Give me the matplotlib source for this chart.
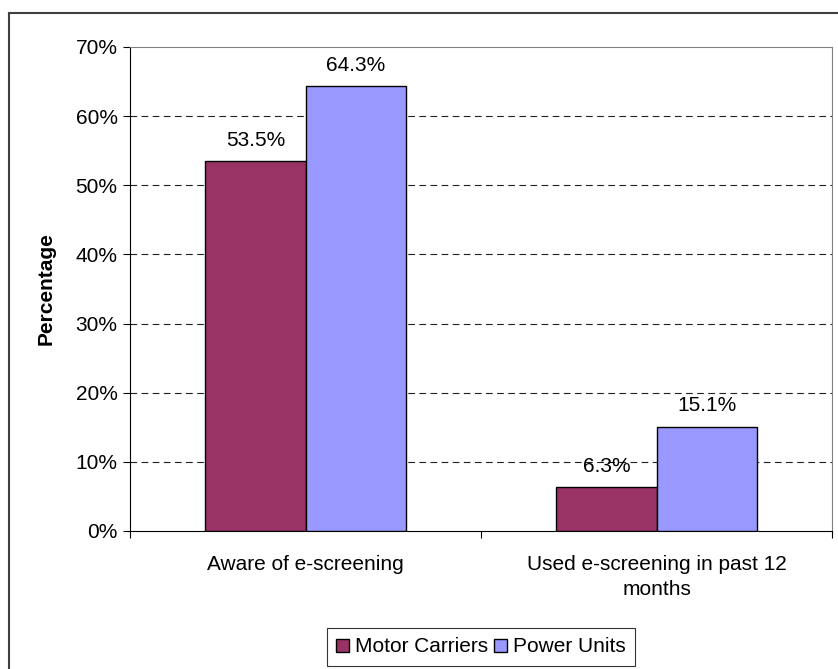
import matplotlib
matplotlib.use("Agg")
import matplotlib.pyplot as plt
from matplotlib.lines import Line2D
from matplotlib.ticker import FixedLocator, PercentFormatter

categories = ["Aware of e-screening", "Used e-screening in past 12\nmonths"]
series_names = ["Motor Carriers", "Power Units"]
motor_carriers = [53.5, 6.3]
power_units = [64.3, 15.1]
y_ticks = [0, 10, 20, 30, 40, 50, 60, 70]

plt.rcParams["font.family"] = ["Liberation Sans", "DejaVu Sans"]
fs = 15

fig = plt.figure(figsize=(8.38, 6.69), dpi=100)
ax = fig.add_axes([130 / 838, 1 - 531 / 669, 702 / 838, 484 / 669])

# chart-area border (top and left edges visible)
fig.add_artist(Line2D([9 / 838, 1.0], [1 - 13 / 669] * 2, color="#404040", lw=1.5,
                      transform=fig.transFigure))
fig.add_artist(Line2D([9 / 838] * 2, [0.0, 1 - 13 / 669], color="#404040", lw=1.5,
                      transform=fig.transFigure))

width = 0.285
x = list(range(len(categories)))
bars1 = ax.bar([i - width / 2 for i in x], motor_carriers, width, color="#993366",
               edgecolor="black", linewidth=1, label=series_names[0], zorder=3)
bars2 = ax.bar([i + width / 2 for i in x], power_units, width, color="#9999FF",
               edgecolor="black", linewidth=1, label=series_names[1], zorder=3)

for bars, vals in ((bars1, motor_carriers), (bars2, power_units)):
    for b, v in zip(bars, vals):
        ax.annotate(f"{v:.1f}%", (b.get_x() + b.get_width() / 2, v),
                    xytext=(0, 8), textcoords="offset points",
                    ha="center", va="bottom", fontsize=fs)

ax.set_xlim(-0.5, len(categories) - 0.5)
ax.set_ylim(0, 70)
ax.set_yticks(y_ticks)
ax.yaxis.set_major_formatter(PercentFormatter(decimals=0))
ax.tick_params(axis="y", direction="out", length=5, width=0.8, labelsize=fs, pad=4)

ax.set_xticks(x)
ax.set_xticklabels(categories, fontsize=fs, linespacing=1.45)
ax.tick_params(axis="x", which="major", length=0, pad=17)
ax.xaxis.set_minor_locator(FixedLocator([-0.5, 0.5, 1.5]))
ax.tick_params(axis="x", which="minor", direction="out", length=5, width=0.8)

for y in y_ticks[1:-1]:
    ax.axhline(y, color="#202020", lw=0.8, dashes=(6, 4), zorder=1)

ax.spines["top"].set_color("#808080")
ax.spines["right"].set_color("#808080")
ax.spines["left"].set_color("black")
ax.spines["bottom"].set_color("black")

ax.set_ylabel("Percentage", fontsize=fs, fontweight="bold", labelpad=14)

leg = fig.legend(handles=[bars1, bars2], loc="center", ncol=2,
                 bbox_to_anchor=(481 / 838, 1 - 647 / 669), fontsize=fs,
                 frameon=True, fancybox=False, edgecolor="black",
                 handlelength=0.6, handleheight=0.6, handletextpad=0.3,
                 columnspacing=0.3, borderpad=0.45)
leg.get_frame().set_linewidth(0.8)

fig.savefig("out.png", dpi=100)
